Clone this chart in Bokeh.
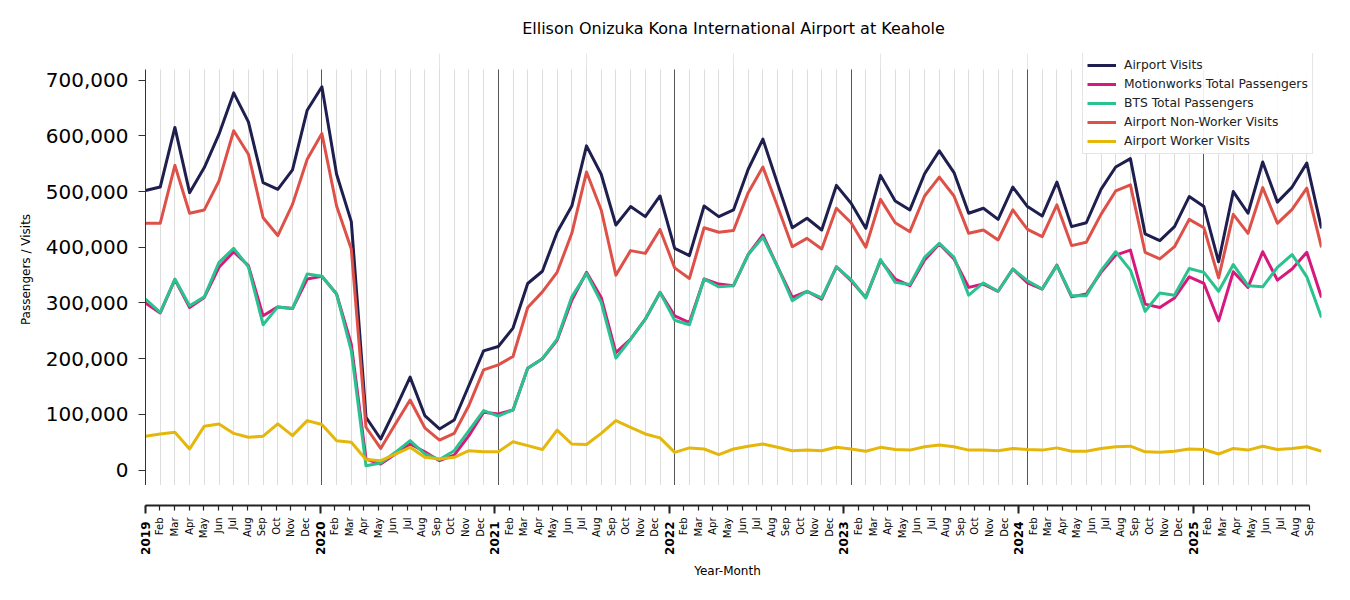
import math
import pandas as pd
from bokeh.plotting import figure
from bokeh.models import (Range1d, FixedTicker, Grid, NumeralTickFormatter, Legend,
                          LegendItem, LabelSet, ColumnDataSource)
from bokeh.layouts import column
from bokeh.core.properties import value
from bokeh.embed import file_html
from bokeh.resources import INLINE

# ---------------- data (monthly, Jan 2019 - Sep 2025) ----------------
dates = pd.date_range("2019-01-01", "2025-09-01", freq="MS")

airport_visits = [
    502000, 508000, 615000, 498000, 543000, 603000, 677000, 625000, 516000, 504000, 539000, 646000,
    688000, 531000, 446000, 95000, 56000, 110000, 167000, 98000, 74000, 90000, 152000, 214000,
    222000, 255000, 335000, 357000, 427000, 474000, 582000, 531000, 440000, 473000, 455000, 492000,
    398000, 385000, 474000, 455000, 467000, 540000, 594000, 514000, 435000, 452000, 431000, 511000,
    479000, 434000, 529000, 483000, 467000, 532000, 573000, 534000, 461000, 470000, 450000, 508000,
    473000, 456000, 517000, 437000, 444000, 504000, 544000, 559000, 424000, 412000, 437000, 491000,
    473000, 374000, 500000, 461000, 553000, 481000, 508000, 551000, 434000,
]
motionworks_total = [
    300000, 282000, 342000, 292000, 310000, 364000, 392000, 367000, 277000, 293000, 290000, 343000,
    348000, 316000, 226000, 20000, 11000, 29000, 47000, 33000, 17000, 27000, 62000, 104000,
    101000, 108000, 183000, 200000, 233000, 305000, 355000, 310000, 211000, 235000, 271000, 319000,
    277000, 265000, 343000, 334000, 331000, 387000, 422000, 365000, 310000, 321000, 307000, 365000,
    340000, 310000, 376000, 343000, 331000, 377000, 406000, 379000, 328000, 334000, 321000, 361000,
    336000, 325000, 368000, 311000, 316000, 355000, 386000, 395000, 298000, 292000, 309000, 347000,
    335000, 268000, 356000, 328000, 392000, 341000, 361000, 391000, 310000,
]
bts_total = [
    307000, 283000, 343000, 295000, 311000, 373000, 398000, 365000, 261000, 293000, 290000, 352000,
    348000, 316000, 214000, 8000, 13000, 32000, 53000, 29000, 19000, 35000, 71000, 107000,
    97000, 108000, 183000, 200000, 235000, 311000, 353000, 301000, 201000, 235000, 271000, 319000,
    269000, 261000, 343000, 329000, 331000, 387000, 418000, 365000, 304000, 321000, 309000, 365000,
    342000, 309000, 378000, 337000, 333000, 382000, 407000, 382000, 314000, 336000, 321000, 361000,
    340000, 325000, 367000, 313000, 313000, 358000, 392000, 359000, 285000, 318000, 314000, 362000,
    355000, 321000, 369000, 331000, 329000, 364000, 387000, 347000, 274000,
]
non_worker_visits = [
    443000, 443000, 547000, 461000, 467000, 519000, 609000, 567000, 453000, 421000, 477000, 558000,
    604000, 474000, 397000, 77000, 39000, 83000, 126000, 76000, 54000, 66000, 116000, 180000,
    189000, 204000, 292000, 320000, 355000, 425000, 535000, 467000, 350000, 394000, 389000, 432000,
    363000, 344000, 435000, 427000, 430000, 498000, 544000, 473000, 401000, 416000, 397000, 470000,
    444000, 400000, 486000, 444000, 428000, 492000, 526000, 492000, 425000, 431000, 413000, 467000,
    432000, 419000, 476000, 403000, 409000, 459000, 501000, 512000, 391000, 379000, 401000, 450000,
    435000, 345000, 459000, 425000, 507000, 443000, 468000, 506000, 400000,
]
worker_visits = [
    61000, 65000, 68000, 38000, 79000, 83000, 66000, 59000, 61000, 83000, 62000, 89000,
    82000, 53000, 50000, 19000, 17000, 29000, 41000, 23000, 20000, 23000, 35000, 33000,
    33000, 51000, 44000, 37000, 72000, 47000, 46000, 66000, 89000, 77000, 65000, 58000,
    32000, 40000, 38000, 28000, 38000, 43000, 47000, 41000, 35000, 36000, 35000, 41000,
    38000, 34000, 41000, 37000, 36000, 42000, 45000, 42000, 36000, 36000, 35000, 39000,
    37000, 36000, 40000, 34000, 34000, 39000, 42000, 43000, 33000, 32000, 34000, 38000,
    37000, 29000, 39000, 36000, 43000, 37000, 39000, 42000, 34000,
]

series_names = ["Airport Visits", "Motionworks Total Passengers", "BTS Total Passengers",
                "Airport Non-Worker Visits", "Airport Worker Visits"]
series_values = [airport_visits, motionworks_total, bts_total, non_worker_visits, worker_visits]
series_colors = ["#1e1e4f", "#d6197f", "#2ac28f", "#de5149", "#e5b70b"]

y_ticks = [0, 100000, 200000, 300000, 400000, 500000, 600000, 700000]

x = list(range(len(dates)))
month_labels = [d.strftime("%b") for d in dates]
year_idx = [i for i, d in enumerate(dates) if d.month == 1]
year_labels = [str(dates[i].year) for i in year_idx]

FONT = "DejaVu Sans"
FW = 1176
Y_LO, Y_HI, Y_TOP = -27500, 719000, 747700   # axis extent / extra headroom for the legend

# ---------------- main plot ----------------
p = figure(frame_width=FW, frame_height=432,
           x_range=Range1d(x[0], x[-1]), y_range=Range1d(Y_LO, Y_TOP),
           x_axis_location=None, toolbar_location=None, output_backend="svg",
           min_border_left=145, min_border_right=8, min_border_top=53, min_border_bottom=0)
p.outline_line_color = None
p.background_fill_color = "white"
p.ygrid.grid_line_color = None

p.title.text = "Ellison Onizuka Kona International Airport at Keahole"
p.title.text_font = FONT
p.title.text_font_size = "16px"
p.title.text_font_style = "normal"
p.title.text_color = "black"
p.title.align = "center"
p.title.standoff = 31

ya = p.yaxis[0]
ya.bounds = (Y_LO, Y_HI)
ya.ticker = FixedTicker(ticks=y_ticks)
ya.formatter = NumeralTickFormatter(format="0,0")
ya.major_label_text_font = FONT
ya.major_label_text_font_size = "20px"
ya.major_label_text_color = "black"
ya.major_tick_out = 7
ya.major_tick_in = 0
ya.minor_tick_out = 0
ya.minor_tick_in = 0
ya.major_tick_line_color = "#333333"
ya.axis_line_color = "#333333"
ya.major_label_standoff = 10
ya.axis_label = "Passengers / Visits"
ya.axis_label_text_font = FONT
ya.axis_label_text_font_size = "12px"
ya.axis_label_text_font_style = "normal"
ya.axis_label_text_color = "black"
ya.axis_label_standoff = 10

g_month = Grid(dimension=0, ticker=FixedTicker(ticks=x),
               grid_line_color="#dddddd", grid_line_width=1)
g_year = Grid(dimension=0, ticker=FixedTicker(ticks=year_idx),
              grid_line_color="#333333", grid_line_width=0.8)
for g in (g_month, g_year):
    try:
        g.cross_bounds = (Y_LO, Y_HI)
    except AttributeError:
        pass
    p.add_layout(g)

items = []
for name, vals, col in zip(series_names, series_values, series_colors):
    r = p.line(x, vals, line_color=col, line_width=3, line_join="round")
    items.append(LegendItem(label=name, renderers=[r]))

legend = Legend(items=items, location=(937, 331),
                label_text_font=FONT, label_text_font_size="12.3px", label_text_color="#222222",
                glyph_width=29, glyph_height=16, label_height=16, spacing=3, padding=4,
                label_standoff=8, margin=0,
                border_line_color="#cccccc", border_line_width=1,
                background_fill_color="white", background_fill_alpha=0.9)
p.add_layout(legend)

# ---------------- detached x axis (own figure, slightly wider so edge labels are not clipped) ----------------
B_H = 105
AXIS_Y = 85          # axis line 20px below the plot area
PAD_PX = 12
px_per_unit = FW / (x[-1] - x[0])
pad = PAD_PX / px_per_unit
b = figure(frame_width=FW + 2 * PAD_PX, frame_height=B_H,
           x_range=Range1d(x[0] - pad, x[-1] + pad), y_range=Range1d(0, B_H),
           y_axis_location=None, toolbar_location=None, output_backend="svg",
           min_border_left=145, min_border_right=0,
           min_border_top=0, min_border_bottom=0)
b.margin = (0, 0, 0, -PAD_PX)
b.outline_line_color = None
b.xgrid.visible = False
b.ygrid.visible = False

xa = b.xaxis[0]
xa.fixed_location = AXIS_Y
xa.bounds = (x[0], x[-1])
xa.ticker = FixedTicker(ticks=x, minor_ticks=year_idx)
xa.major_label_overrides = {i: ("" if i in year_idx else month_labels[i]) for i in x}
xa.major_label_orientation = math.pi / 2
xa.major_label_text_font = FONT
xa.major_label_text_font_size = "10px"
xa.major_label_text_color = "black"
xa.major_label_standoff = 4
xa.major_tick_out = 5
xa.major_tick_in = 0
xa.minor_tick_out = 8
xa.minor_tick_in = 0
xa.major_tick_line_color = "#222222"
xa.major_tick_line_width = 1.2
xa.minor_tick_line_color = "#222222"
xa.minor_tick_line_width = 2
xa.axis_line_color = "#222222"
xa.axis_line_width = 2
xa.axis_label = "Year-Month"
xa.axis_label_text_font = FONT
xa.axis_label_text_font_size = "12px"
xa.axis_label_text_font_style = "normal"
xa.axis_label_text_color = "black"
xa.axis_label_standoff = 23

year_src = ColumnDataSource(dict(x=year_idx, y=[AXIS_Y] * len(year_idx), text=year_labels))
b.add_layout(LabelSet(x="x", y="y", text="text", source=year_src,
                      angle=math.pi / 2, text_align="right", text_baseline="middle",
                      y_offset=-16, text_font=value(FONT), text_font_size=value("12px"),
                      text_font_style="bold", text_color="black"))

layout = column(p, b)
open("out.html", "w").write(file_html(layout, INLINE))
